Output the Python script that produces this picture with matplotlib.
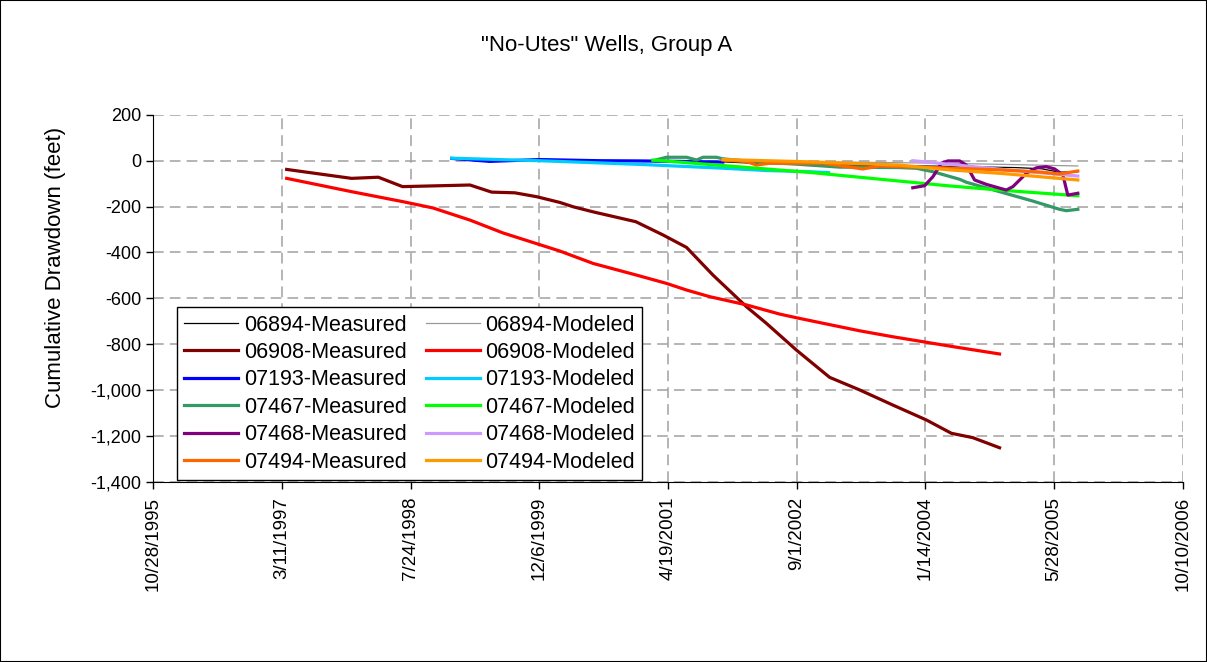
import matplotlib
matplotlib.use("Agg")
import matplotlib.pyplot as plt
from matplotlib.patches import Rectangle

plt.rcParams['font.family'] = ['Liberation Sans', 'DejaVu Sans']

# x values are Excel date serials (days), y = cumulative drawdown (feet)
tick_serials = [35000, 35500, 36000, 36500, 37000, 37500, 38000, 38500, 39000]
tick_labels = ['10/28/1995', '3/11/1997', '7/24/1998', '12/6/1999', '4/19/2001',
               '9/1/2002', '1/14/2004', '5/28/2005', '10/10/2006']

x_06894_meas = [37214, 37350, 37500, 37650, 37800, 37950, 38100, 38250, 38350, 38450, 38520, 38592]
y_06894_meas = [-5, -12, -15, -18, -20, -22, -25, -28, -30, -35, -50, -48]
x_06894_mod = [37214, 37600, 38000, 38300, 38592]
y_06894_mod = [0, -5, -10, -16, -23]

x_06908_meas = [35519, 35771, 35875, 35969, 36231, 36315, 36405, 36490, 36580, 36632, 36709,
                36875, 36981, 37072, 37175, 37305, 37382, 37499, 37628, 37745, 37874, 38004,
                38101, 38184, 38288]
y_06908_meas = [-38, -77, -72, -113, -106, -137, -140, -157, -182, -201, -223,
                -266, -324, -378, -499, -637, -709, -826, -945, -1000, -1066, -1131,
                -1189, -1208, -1252]
x_06908_mod = [35519, 35771, 35972, 36087, 36231, 36359, 36580, 36709, 36878, 36994, 37072,
               37162, 37305, 37434, 37499, 37615, 37745, 37874, 38004, 38107, 38288]
y_06908_mod = [-77, -135, -179, -206, -259, -315, -394, -448, -499, -535, -564,
               -593, -629, -669, -685, -712, -742, -768, -792, -811, -843]

x_07193_meas = [36160, 36308, 36502, 36735, 36890, 37046, 37213]
y_07193_meas = [10, -3, 5, 0, -1, -3, -6]
x_07193_mod = [36160, 36500, 36890, 37200, 37387, 37549, 37624]
y_07193_mod = [11, 0, -16, -32, -43, -48, -52]

x_07467_meas = [36942, 36994, 37072, 37111, 37136, 37188, 37214, 37356, 37512, 37667, 37900,
                37965, 38029, 38133, 38159, 38288, 38417, 38521, 38547, 38592]
y_07467_meas = [0, 15, 15, 3, 15, 15, 8, -6, -16, -28, -30,
                -33, -48, -81, -94, -135, -176, -212, -218, -212]
x_07467_mod = [36942, 37550, 37900, 38094, 38288, 38592]
y_07467_mod = [3, -51, -89, -110, -128, -153]

x_07468_meas = [37951, 37997, 38029, 38062, 38087, 38133, 38159, 38191, 38236, 38314, 38340,
                38392, 38431, 38469, 38502, 38534, 38553, 38592]
y_07468_meas = [-118, -109, -70, -11, -1, -1, -19, -84, -103, -128, -113,
                -55, -31, -26, -36, -62, -150, -142]
x_07468_mod = [37951, 38250, 38592]
y_07468_mod = [0, -33, -67]

x_07494_meas = [37214, 37305, 37344, 37395, 37473, 37550, 37602, 37757, 37822, 37900, 38094,
                38288, 38443, 38521, 38592]
y_07494_meas = [3, -4, -19, -11, -11, -11, -11, -36, -23, -26, -32, -40, -49, -58, -45]
x_07494_mod = [37214, 37550, 37900, 38094, 38300, 38592]
y_07494_mod = [5, -5, -19, -40, -56, -84]

fig = plt.figure(figsize=(12.07, 6.62), dpi=100)
ax = fig.add_axes([0.1268, 0.2724, 0.8532, 0.5541])

lw = 2.3
h_meas = []
h_mod = []
h_meas += ax.plot(x_06894_meas, y_06894_meas, color='black', lw=0.9, label='06894-Measured')
h_mod += ax.plot(x_06894_mod, y_06894_mod, color='#999999', lw=0.9, label='06894-Modeled')
h_meas += ax.plot(x_06908_meas, y_06908_meas, color='#800000', lw=lw, label='06908-Measured')
h_mod += ax.plot(x_06908_mod, y_06908_mod, color='#FF0000', lw=lw, label='06908-Modeled')
h_meas += ax.plot(x_07193_meas, y_07193_meas, color='#0000FF', lw=lw, label='07193-Measured')
h_mod += ax.plot(x_07193_mod, y_07193_mod, color='#00CCFF', lw=lw, label='07193-Modeled')
h_meas += ax.plot(x_07467_meas, y_07467_meas, color='#339966', lw=lw, label='07467-Measured')
h_mod += ax.plot(x_07467_mod, y_07467_mod, color='#00FF00', lw=lw, label='07467-Modeled')
h_meas += ax.plot(x_07468_meas, y_07468_meas, color='#800080', lw=lw, label='07468-Measured')
h_mod += ax.plot(x_07468_mod, y_07468_mod, color='#CC99FF', lw=lw, label='07468-Modeled')
h_meas += ax.plot(x_07494_meas, y_07494_meas, color='#FF6600', lw=lw, label='07494-Measured')
h_mod += ax.plot(x_07494_mod, y_07494_mod, color='#FF9900', lw=lw, label='07494-Modeled')

ax.set_xlim(35000, 39000)
ax.set_ylim(-1400, 200)
ax.set_xticks(tick_serials)
ax.set_xticklabels(tick_labels, rotation=90, fontsize=13.5)
yt = list(range(-1400, 201, 200))
ax.set_yticks(yt)
ax.set_yticklabels(['{:,}'.format(v) for v in yt], fontsize=13)
ax.tick_params(direction='out', length=5, width=1)
ax.tick_params(axis='x', pad=6)
ax.grid(True, color='#A0A0A0', ls=(0, (7, 4)), lw=1.1)
ax.set_axisbelow(True)
for s in ['top', 'right']:
    ax.spines[s].set_visible(False)
ax.set_ylabel('Cumulative Drawdown (feet)', fontsize=16)
ax.yaxis.set_label_coords(-0.085, 0.585)

fig.text(0.503, 0.932, '"No-Utes" Wells, Group A', ha='center', va='center', fontsize=16)

leg = ax.legend(h_meas + h_mod, [h.get_label() for h in h_meas + h_mod], ncol=2,
                loc='upper left', bbox_to_anchor=(0.1466, 0.5363),
                bbox_transform=fig.transFigure, fontsize=15.5, frameon=True,
                fancybox=False, edgecolor='black', framealpha=1,
                handlelength=2.5, handletextpad=0.25, columnspacing=0.9,
                labelspacing=0.3, borderpad=0.35, borderaxespad=0)
leg.get_frame().set_linewidth(1)

fig.patches.append(Rectangle((0, 0), 1, 1, transform=fig.transFigure, fill=False,
                             edgecolor='black', lw=1.5))

fig.savefig('out.png', dpi=100)
